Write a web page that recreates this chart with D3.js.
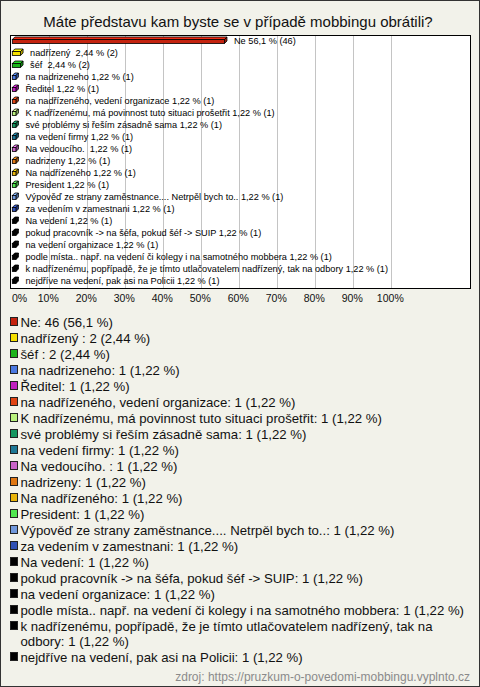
<!DOCTYPE html>
<html><head><meta charset="utf-8">
<script src="https://cdn.jsdelivr.net/npm/d3@7"></script>
<style>
html,body{margin:0;padding:0;background:#f2f2ea;}
svg{display:block;font-family:"Liberation Sans",Arial,sans-serif;}
</style></head>
<body>
<svg id="c" width="480" height="687"></svg>
<script>
const title = "Máte představu kam byste se v případě mobbingu obrátili?";
const categories = [
  "Ne",
  "nadřízený ",
  "šéf ",
  "na nadrizeneho",
  "Ředitel",
  "na nadřízeného, vedení organizace",
  "K nadřízenému, má povinnost tuto situaci prošetřit",
  "své problémy si řeším zásadně sama",
  "na vedení firmy",
  "Na vedoucího. ",
  "nadrizeny",
  "Na nadřízeného",
  "President",
  "Výpověď ze strany zaměstnance.... Netrpěl bych to..",
  "za vedením v zamestnani",
  "Na vedení",
  "pokud pracovník -> na šéfa, pokud šéf -> SUIP",
  "na vedení organizace",
  "podle místa.. např. na vedení či kolegy i na samotného mobbera",
  "k nadřízenému, popřípadě, že je tímto utlačovatelem nadřízený, tak na odbory",
  "nejdříve na vedení, pak asi na Policii"
];
const counts = [46,2,2,1,1,1,1,1,1,1,1,1,1,1,1,1,1,1,1,1,1];
const percents = [56.1,2.44,2.44,1.22,1.22,1.22,1.22,1.22,1.22,1.22,1.22,1.22,1.22,1.22,1.22,1.22,1.22,1.22,1.22,1.22,1.22];
const colors = ["#c4230f","#f5e000","#1cb41c","#4a78e0","#c020c0","#e04414","#b8f07c","#169660","#1e7896","#c864c8","#e07814","#e8b40a","#50e650","#7098dc","#3050b4",
  "#000000","#000000","#000000","#000000","#000000","#000000"];
const ticks = [0,10,20,30,40,50,60,70,80,90,100];
const source = "zdroj: https://pruzkum-o-povedomi-mobbingu.vyplnto.cz";

const fmt = v => String(v).replace(".", ",");
const svg = d3.select("#c");

svg.append("rect").attr("x",0.5).attr("y",0.5).attr("width",479).attr("height",686)
  .attr("fill","#f2f2ea").attr("stroke","#333");

svg.append("text").attr("x",238).attr("y",27).attr("text-anchor","middle")
  .attr("font-size",15).attr("fill","#111").text(title);

const box = {x0:10.5, x1:470.5, y0:35.5, y1:288.5};
const x = d3.scaleLinear().domain([0,100]).range([11.3,391.3]);
const y = d3.scaleBand().domain(categories).range([35,287]);

svg.append("rect").attr("x",box.x0).attr("y",box.y0).attr("width",box.x1-box.x0).attr("height",box.y1-box.y0)
  .attr("fill","#fff");

svg.append("g").selectAll("line").data(ticks.slice(1)).join("line")
  .attr("x1",d=>Math.round(x(d))+0.5).attr("x2",d=>Math.round(x(d))+0.5)
  .attr("y1",box.y0).attr("y2",box.y1).attr("stroke","#c4c4c4");

svg.append("rect").attr("x",box.x0).attr("y",box.y0).attr("width",box.x1-box.x0).attr("height",box.y1-box.y0)
  .attr("fill","none").attr("stroke","#000");

const data = categories.map((c,i)=>({c, n:counts[i], p:percents[i], col:colors[i]}));
const g = svg.append("g");
const dep = 2.5;
data.forEach(d=>{
  const cy = y(d.c) + y.bandwidth()/2;
  const xa = x(0)+1, xb = x(d.p);
  const top = cy-1.5, bot = cy+2.5;
  const col = d3.color(d.col);
  g.append("path").attr("d",`M${xa},${top}L${xa+dep},${top-dep}L${xb+dep},${top-dep}L${xb},${top}Z`)
    .attr("fill", d.col==="#000000" ? "#000" : col.brighter(0.6)).attr("stroke","#000").attr("stroke-width",0.8);
  g.append("path").attr("d",`M${xb},${top}L${xb+dep},${top-dep}L${xb+dep},${bot-dep}L${xb},${bot}Z`)
    .attr("fill", d.col==="#000000" ? "#000" : col.darker(0.8)).attr("stroke","#000").attr("stroke-width",0.8);
  g.append("rect").attr("x",xa).attr("y",top).attr("width",xb-xa).attr("height",bot-top)
    .attr("fill",d.col).attr("stroke","#000").attr("stroke-width",0.8);
  g.append("text").attr("x",xb+dep+7).attr("y",cy+3.3).attr("font-size",9.2).attr("fill","#000")
    .attr("xml:space","preserve").style("white-space","pre")
    .text(`${d.c} ${fmt(d.p)} % (${d.n})`);
});

svg.append("g").selectAll("text").data(ticks).join("text")
  .attr("x",d=> d===0 ? 12 : x(d)-1).attr("y",302)
  .attr("text-anchor",d=> d===0 ? "start" : "middle")
  .attr("font-size",10.5).attr("fill","#111").text(d=>d+"%");

const lg = svg.append("g");
let ly = 322;
const tx = 20.5, maxW = 449, wrapDy = 15;
data.forEach(d=>{
  lg.append("rect").attr("x",10.5).attr("y",ly-4.5).attr("width",7).attr("height",8)
    .attr("fill",d.col).attr("stroke","#222").attr("stroke-width",1);
  const full = `${d.c}: ${d.n} (${fmt(d.p)} %)`;
  const words = full.split(" ");
  let line = "";
  let t = lg.append("text").attr("x",tx).attr("y",ly+4.5).attr("font-size",13.2).attr("fill","#111")
    .attr("xml:space","preserve").style("white-space","pre");
  let lines = 0;
  words.forEach(w=>{
    const test = line==="" ? w : line+" "+w;
    t.text(test);
    if (t.node().getComputedTextLength() > maxW && line!=="") {
      t.text(line);
      lines++;
      t = lg.append("text").attr("x",tx).attr("y",ly+4.5+lines*wrapDy).attr("font-size",13.2).attr("fill","#111")
        .attr("xml:space","preserve").style("white-space","pre").text(w);
      line = w;
    } else line = test;
  });
  ly += 16 + lines*wrapDy;
});

svg.append("text").attr("x",470).attr("y",681).attr("text-anchor","end")
  .attr("font-size",12).attr("fill","#8a8a8a").text(source);
</script>
</body></html>
